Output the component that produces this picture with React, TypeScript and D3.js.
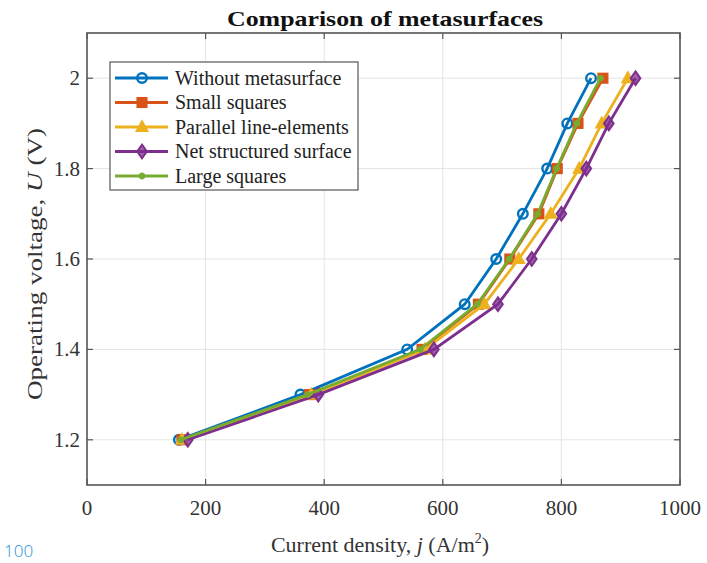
import React from "react";
import * as d3 from "d3";

const voltages = [1.2, 1.3, 1.4, 1.5, 1.6, 1.7, 1.8, 1.9, 2.0];
const withoutMeta = [155, 360, 540, 637, 690, 735, 776, 810, 850];
const smallSquares = [160, 375, 565, 660, 713, 762, 793, 828, 870];
const parallelLines = [160, 378, 570, 670, 728, 782, 830, 868, 912];
const netStructured = [170, 390, 585, 693, 750, 800, 842, 880, 925];
const largeSquares = [158, 372, 562, 658, 712, 760, 792, 826, 866];

const seriesNames = [
  "Without metasurface",
  "Small squares",
  "Parallel line-elements",
  "Net structured surface",
  "Large squares",
];
const seriesValues = [withoutMeta, smallSquares, parallelLines, netStructured, largeSquares];
const seriesColors = ["#0072BD", "#D95319", "#EDB120", "#7E2F8E", "#77AC30"];
const seriesMarkers = ["circle", "square", "triangle", "diamond", "star"];

const xTicks = [0, 200, 400, 600, 800, 1000];
const yTicks = [1.2, 1.4, 1.6, 1.8, 2.0];

const W = 707;
const H = 563;
const L = 87, R = 680, T = 33, B = 485;

function Marker({ type, x, y, color }: { type: string; x: number; y: number; color: string }) {
  const s = 4.8;
  if (type === "circle")
    return <circle cx={x} cy={y} r={s} fill="none" stroke={color} strokeWidth={2.4} />;
  if (type === "square")
    return <rect x={x - s} y={y - s} width={2 * s} height={2 * s} fill={color} stroke={color} strokeWidth={1.5} />;
  if (type === "triangle")
    return (
      <path
        d={`M${x},${y - s - 1.5}L${x + s + 1},${y + s - 0.5}L${x - s - 1},${y + s - 0.5}Z`}
        fill={color}
        stroke={color}
        strokeWidth={1.5}
      />
    );
  if (type === "diamond")
    return (
      <path
        d={`M${x},${y - s - 2}L${x + s},${y}L${x},${y + s + 2}L${x - s},${y}Z`}
        fill={color}
        fillOpacity={0.75}
        stroke={color}
        strokeWidth={2}
      />
    );
  const k = 3.4;
  return (
    <g stroke={color} strokeWidth={2.2}>
      <line x1={x - k} y1={y} x2={x + k} y2={y} />
      <line x1={x} y1={y - k} x2={x} y2={y + k} />
      <line x1={x - k * 0.7} y1={y - k * 0.7} x2={x + k * 0.7} y2={y + k * 0.7} />
      <line x1={x - k * 0.7} y1={y + k * 0.7} x2={x + k * 0.7} y2={y - k * 0.7} />
    </g>
  );
}

export default function App() {
  const x = d3.scaleLinear().domain([0, 1000]).range([L, R]);
  const y = d3.scaleLinear().domain([1.1, 2.1]).range([B, T]);
  const line = d3
    .line<[number, number]>()
    .x((d) => x(d[0]))
    .y((d) => y(d[1]));

  const serif = "'Liberation Serif', 'DejaVu Serif', serif";
  const axisColor = "#555";

  return (
    <svg
      width={W}
      height={H}
      style={{ position: "absolute", left: 0, top: 0, background: "#fff" }}
      fontFamily={serif}
    >
      <rect x={0} y={0} width={W} height={H} fill="#fff" />
      {/* grid */}
      {xTicks.slice(1, -1).map((t) => (
        <line key={"gx" + t} x1={x(t)} x2={x(t)} y1={T} y2={B} stroke="#e4e4e4" strokeWidth={1} />
      ))}
      {yTicks.map((t) => (
        <line key={"gy" + t} x1={L} x2={R} y1={y(t)} y2={y(t)} stroke="#e4e4e4" strokeWidth={1} />
      ))}
      {/* series */}
      {seriesValues.map((vals, i) => {
        const pts: [number, number][] = vals.map((v, j) => [v, voltages[j]]);
        return (
          <g key={seriesNames[i]}>
            <path d={line(pts) || ""} fill="none" stroke={seriesColors[i]} strokeWidth={2.8} />
            {pts.map((p, j) => (
              <Marker key={j} type={seriesMarkers[i]} x={x(p[0])} y={y(p[1])} color={seriesColors[i]} />
            ))}
          </g>
        );
      })}
      {/* box */}
      <rect x={L} y={T} width={R - L} height={B - T} fill="none" stroke={axisColor} strokeWidth={1.6} />
      {/* ticks */}
      {xTicks.map((t) => (
        <g key={"tx" + t}>
          <line x1={x(t)} x2={x(t)} y1={B} y2={B - 6} stroke={axisColor} strokeWidth={1.2} />
          <line x1={x(t)} x2={x(t)} y1={T} y2={T + 6} stroke={axisColor} strokeWidth={1.2} />
          <text x={x(t)} y={515} textAnchor="middle" fontSize={21} fill="#333">
            {t}
          </text>
        </g>
      ))}
      {yTicks.map((t) => (
        <g key={"ty" + t}>
          <line x1={L} x2={L + 6} y1={y(t)} y2={y(t)} stroke={axisColor} strokeWidth={1.2} />
          <line x1={R} x2={R - 6} y1={y(t)} y2={y(t)} stroke={axisColor} strokeWidth={1.2} />
          <text x={80} y={y(t) + 7} textAnchor="end" fontSize={21} fill="#333">
            {d3.format("")(t)}
          </text>
        </g>
      ))}
      {/* title */}
      <text x={385} y={26} textAnchor="middle" fontSize={22} fontWeight="bold" fill="#111" textLength={316} lengthAdjust="spacingAndGlyphs">
        Comparison of metasurfaces
      </text>
      {/* x label */}
      <text x={380} y={552} textAnchor="middle" fontSize={22} fill="#333">
        Current density, <tspan fontStyle="italic">j</tspan> (A/m<tspan dy={-9} fontSize={14}>2</tspan>
        <tspan dy={9}>)</tspan>
      </text>
      {/* y label */}
      <text
        transform={`translate(42, 264) rotate(-90)`}
        textAnchor="middle"
        fontSize={21}
        fill="#333"
        textLength={272}
        lengthAdjust="spacingAndGlyphs"
      >
        Operating voltage, <tspan fontStyle="italic">U</tspan> (V)
      </text>
      {/* legend */}
      <rect x={110} y={62} width={248} height={128} fill="#fff" stroke="#555" strokeWidth={1.2} />
      {seriesNames.map((name, i) => {
        const ly = 78 + i * 24.5;
        return (
          <g key={"lg" + name}>
            <line x1={115} x2={168} y1={ly} y2={ly} stroke={seriesColors[i]} strokeWidth={2.8} />
            <Marker type={seriesMarkers[i]} x={142} y={ly} color={seriesColors[i]} />
            <text x={175} y={ly + 6.5} fontSize={20} fill="#222">
              {name}
            </text>
          </g>
        );
      })}
      {/* stray caption fragment */}
      <text x={4} y={557} fontSize={17} fill="#1e90d6" fontFamily="'Open Sans', 'Noto Sans', sans-serif" fontWeight={300}>
        100
      </text>
    </svg>
  );
}
